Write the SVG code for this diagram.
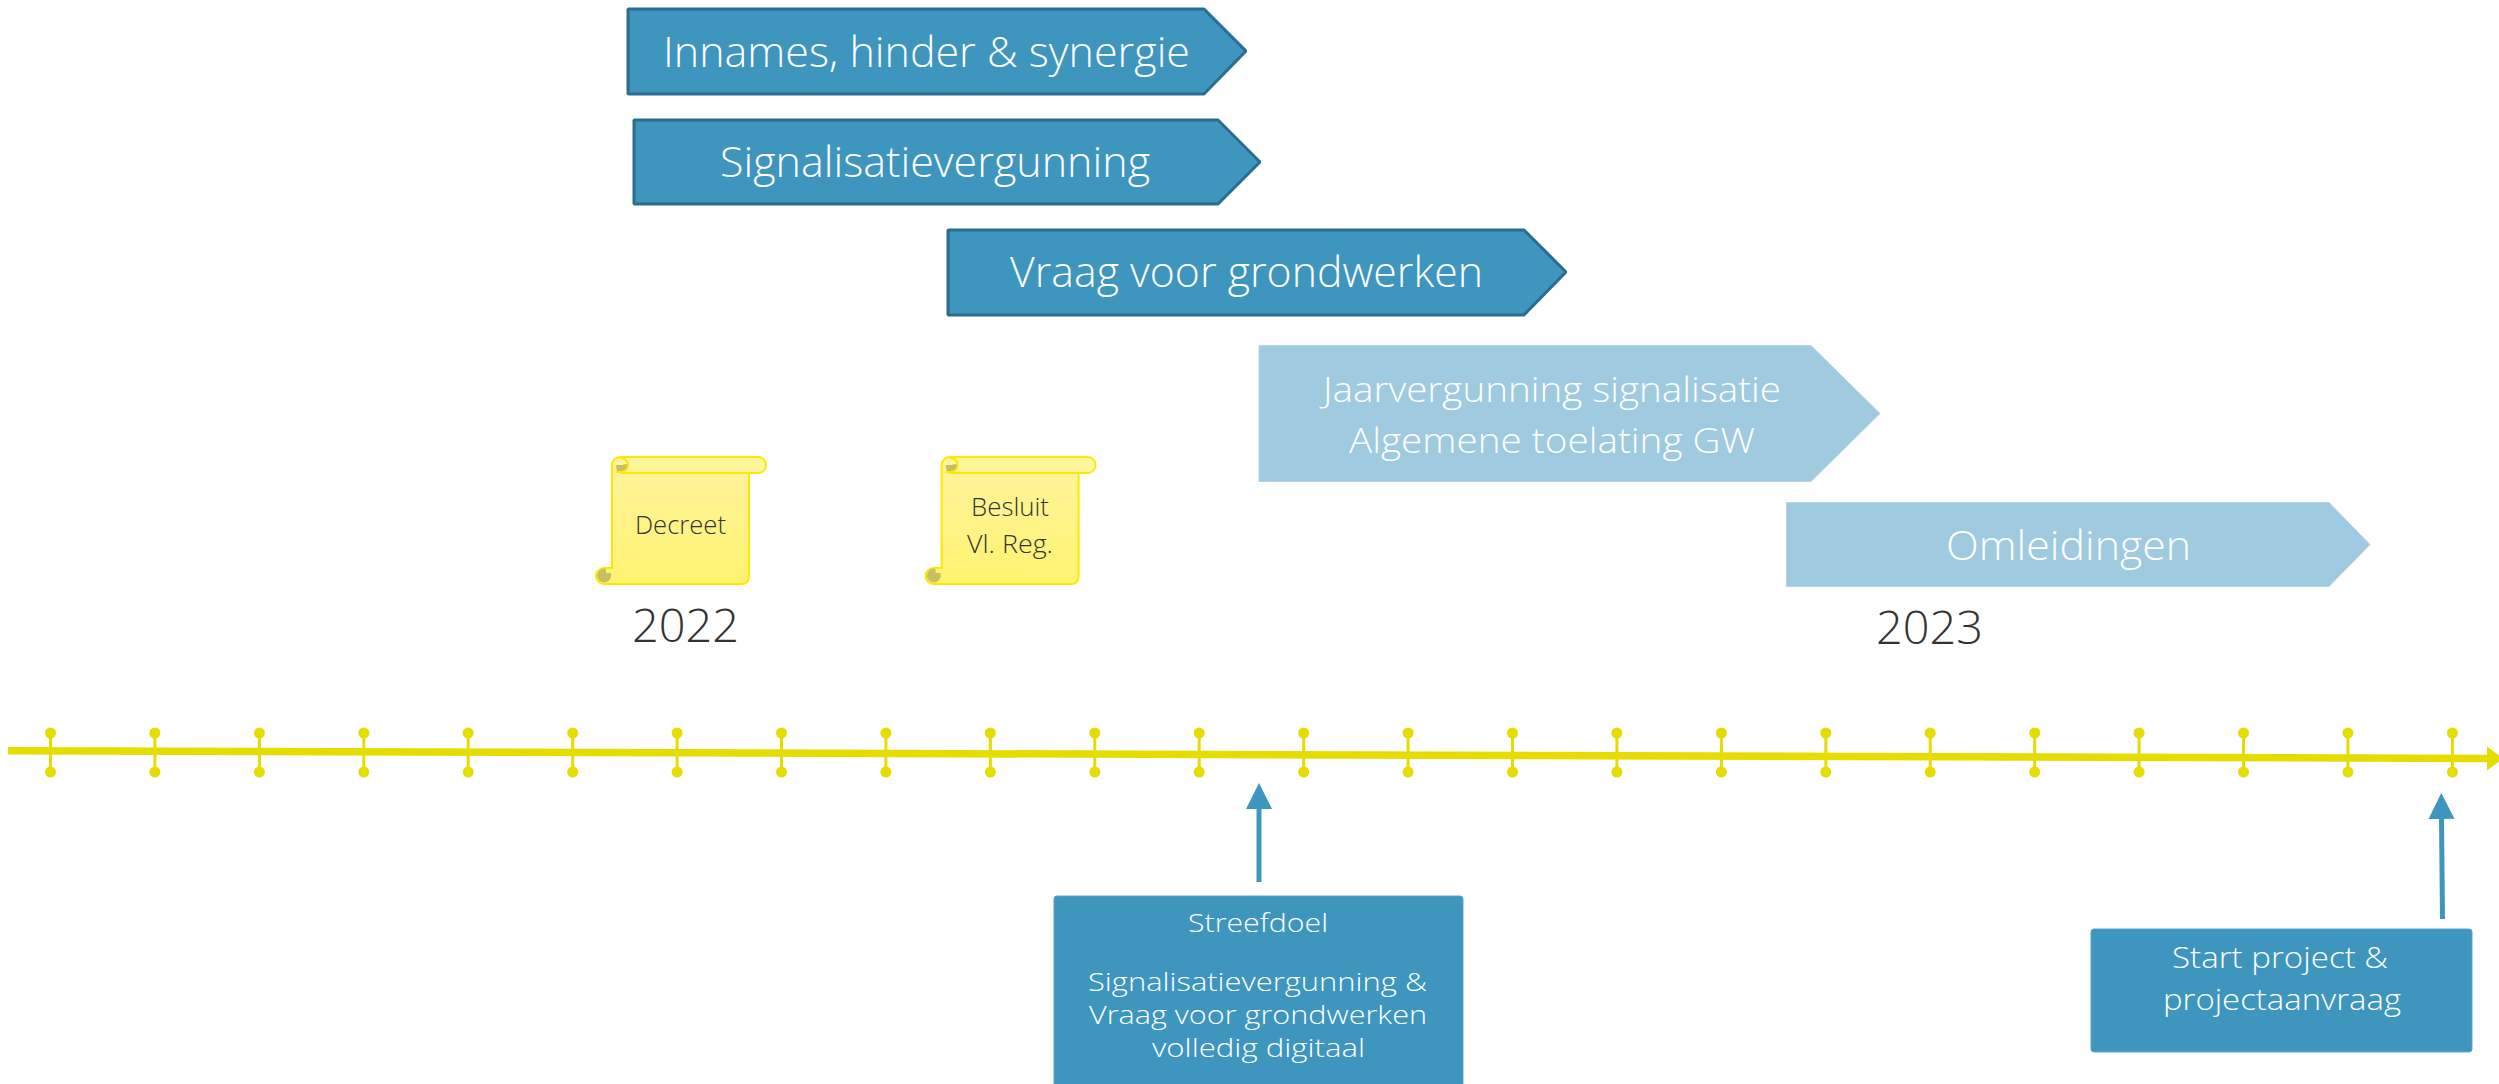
<svg xmlns="http://www.w3.org/2000/svg" width="2499" height="1084" viewBox="0 0 2499 1084">
<style>
text{font-family:"Open Sans","Noto Sans","Liberation Sans",sans-serif;font-weight:300;white-space:pre}
.w{fill:#fff}.d{fill:#333}
.dark{fill:#3E95BE;stroke:#2A6D8C;stroke-width:3;stroke-linejoin:bevel}
.light{fill:#9FCADF;stroke:#B5D6E6;stroke-width:1}
.box{fill:#3E95BE;stroke:#5AA5C8;stroke-width:1}
.l{font-size:43px}.y{font-size:46px}.o{font-size:41px}.m{font-size:35px}.s{font-size:25px}.st{font-size:30px}.n{font-size:26px}
.axis{fill:none;stroke:#E6DC00;stroke-width:7.5}
.tick{stroke:#E6DC00;stroke-width:3}.dot{fill:#E6DC00}
.blue{fill:none;stroke:#3E95BE;stroke-width:5}
.body{fill:url(#sg);stroke:#FFE800;stroke-width:2}
.bar{fill:#FFF59A}.olive{fill:#C9BF62}
</style>
<defs>
<linearGradient id="sg" x1="0" y1="0" x2="0" y2="1"><stop offset="0" stop-color="#FFF3A0"/><stop offset="1" stop-color="#FFF370"/></linearGradient>
<marker id="ah" markerUnits="userSpaceOnUse" markerWidth="27" markerHeight="27" viewBox="0 0 27 27" refX="1" refY="13.5" orient="auto"><path d="M0,0.5L26,13.5L0,26.5Z" fill="#3E95BE"/></marker>
<marker id="ay" markerUnits="userSpaceOnUse" markerWidth="16" markerHeight="26" viewBox="0 0 16 26" refX="1" refY="12" orient="auto"><path d="M0,0L16,12L0,24Z" fill="#E6DC00"/></marker>
<g id="tk"><line class="tick" x1="0" y1="733" x2="0" y2="772"/><circle class="dot" cx="0" cy="733" r="5.5"/><circle class="dot" cx="0" cy="772" r="5.5"/></g>
<g id="scroll">
<path class="body" d="M604,584H741Q749,584 749,576V473H758A8,8 0 0 0 758,457H620A8,8 0 0 0 612,465V568H604A8,8 0 0 0 604,584Z"/>
<path class="bar" d="M620,458H758A7,7 0 0 1 758,472H620Z"/>
<path d="M620,473H749" fill="none" stroke="#FFE800" stroke-width="2"/>
<path d="M621,458A7,7 0 0 1 621,472H616" fill="none" stroke="#FFE800" stroke-width="2"/>
<path class="olive" d="M616,465H621.500L627,464A6,6 0 0 1 621,471H617Z"/>
<path class="olive" d="M606,568.800V573H610.700A7,7 0 1 1 606,568.800Z"/>
</g>
</defs>
<g id="connectors">
<line class="axis" x1="8" y1="750.7" x2="2488" y2="758.5" marker-end="url(#ay)"/>
<line class="blue" x1="1259" y1="882" x2="1259" y2="808" marker-end="url(#ah)"/>
<line class="blue" x1="2442.500" y1="919" x2="2441.500" y2="818" marker-end="url(#ah)"/>
</g>
<g id="ticks" transform="translate(0.5 0)">
<use href="#tk" x="50"/><use href="#tk" x="154.4"/><use href="#tk" x="258.9"/><use href="#tk" x="363.3"/><use href="#tk" x="467.7"/><use href="#tk" x="572.2"/><use href="#tk" x="676.6"/><use href="#tk" x="781"/><use href="#tk" x="885.4"/><use href="#tk" x="989.9"/><use href="#tk" x="1094.3"/><use href="#tk" x="1198.7"/><use href="#tk" x="1303.2"/><use href="#tk" x="1407.6"/><use href="#tk" x="1512"/><use href="#tk" x="1616.4"/><use href="#tk" x="1720.9"/><use href="#tk" x="1825.3"/><use href="#tk" x="1929.7"/><use href="#tk" x="2034.2"/><use href="#tk" x="2138.6"/><use href="#tk" x="2243"/><use href="#tk" x="2347.4"/><use href="#tk" x="2451.9"/>
</g>
<g id="innames"><path class="dark" d="M628,9H1204L1246,51L1204,94H628Z"/><text class="w l" x="663" y="67" textLength="527" lengthAdjust="spacingAndGlyphs">Innames, hinder &amp; synergie</text></g>
<g id="signalisatievergunning"><path class="dark" d="M634,120H1218L1260,162L1218,204H634Z"/><text class="w l" x="720" y="177" textLength="430" lengthAdjust="spacingAndGlyphs">Signalisatievergunning</text></g>
<g id="vraag"><path class="dark" d="M948,230H1524L1566,272L1524,315H948Z"/><text class="w l" x="1010" y="287" textLength="473" lengthAdjust="spacingAndGlyphs">Vraag voor grondwerken</text></g>
<g id="jaarvergunning"><path class="light" d="M1259,345.500H1811L1880,413.500L1811,481.500H1259Z"/><text class="w m" x="1323" y="402" textLength="458" lengthAdjust="spacingAndGlyphs">Jaarvergunning signalisatie</text><text class="w m" x="1349" y="453" textLength="406" lengthAdjust="spacingAndGlyphs">Algemene toelating GW</text></g>
<g id="omleidingen"><path class="light" d="M1786.500,502.500H2329L2370,544.500L2329,586.500H1786.500Z"/><text class="w o" x="1946" y="560" textLength="245" lengthAdjust="spacingAndGlyphs">Omleidingen</text></g>
<g id="decreet"><use href="#scroll"/><text class="d n" x="635" y="534" textLength="91" lengthAdjust="spacingAndGlyphs">Decreet</text></g>
<g id="besluit"><use href="#scroll" x="329.600"/><text class="d n" x="971" y="516" textLength="78" lengthAdjust="spacingAndGlyphs">Besluit</text><text class="d n" x="967" y="553" textLength="86" lengthAdjust="spacingAndGlyphs">Vl. Reg.</text></g>
<g id="y2022"><text class="d y" x="632" y="642" textLength="107" lengthAdjust="spacingAndGlyphs">2022</text></g>
<g id="y2023"><text class="d y" x="1876" y="644" textLength="107" lengthAdjust="spacingAndGlyphs">2023</text></g>
<g id="streefdoel"><rect class="box" x="1054" y="896" width="409" height="200" rx="3"/><text class="w s" x="1188" y="932" textLength="140" lengthAdjust="spacingAndGlyphs">Streefdoel</text><text class="w s" x="1088" y="991" textLength="339" lengthAdjust="spacingAndGlyphs">Signalisatievergunning &amp;</text><text class="w s" x="1089" y="1024" textLength="338" lengthAdjust="spacingAndGlyphs">Vraag voor grondwerken</text><text class="w s" x="1152" y="1057" textLength="213" lengthAdjust="spacingAndGlyphs">volledig digitaal</text></g>
<g id="start"><rect class="box" x="2091" y="929" width="381" height="123" rx="3"/><text class="w st" x="2172" y="968" textLength="216" lengthAdjust="spacingAndGlyphs">Start project &amp;</text><text class="w st" x="2163" y="1010" textLength="238" lengthAdjust="spacingAndGlyphs">projectaanvraag</text></g>
</svg>
